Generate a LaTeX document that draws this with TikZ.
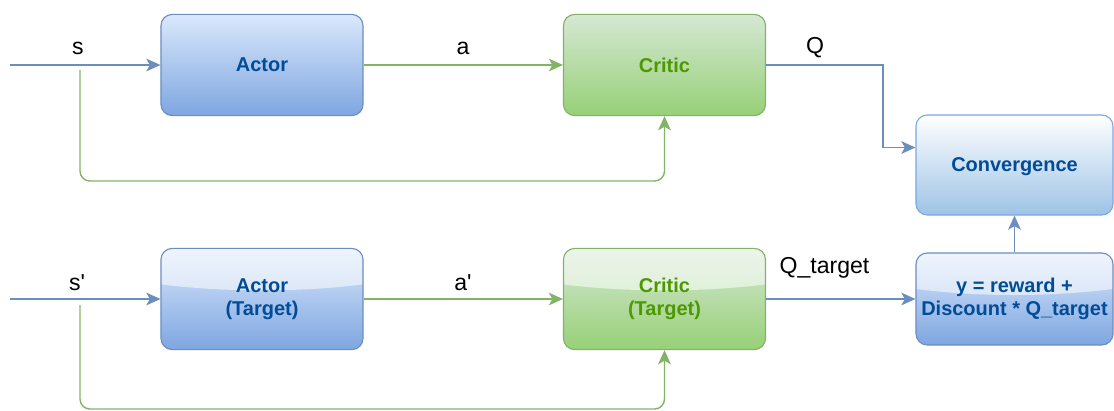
\documentclass[tikz,border=0pt]{standalone}
\usepackage{fontspec}
\setmainfont{Liberation Sans}[Ligatures=TeXOff]
\usetikzlibrary{arrows.meta}

\definecolor{bluetop}{HTML}{DAE8FC}
\definecolor{bluebot}{HTML}{7EA6E0}
\definecolor{blueline}{HTML}{6C8EBF}
\definecolor{bluetext}{HTML}{004C99}
\definecolor{greentop}{HTML}{D5E8D4}
\definecolor{greenbot}{HTML}{97D077}
\definecolor{greenline}{HTML}{82B366}
\definecolor{greentext}{HTML}{4D9900}
\definecolor{convbot}{HTML}{9DC3E6}
\definecolor{convline}{HTML}{7EA6E0}

\begin{document}
\begin{tikzpicture}[x=0.025cm, y=-0.025cm,
    box/.style={rounded corners=8pt, line width=0.8pt, minimum width=5.05cm, minimum height=2.53cm,
        align=center, inner sep=2pt, font=\fontsize{14.2}{16.5}\selectfont\bfseries},
    bluebox/.style={box, draw=blueline, top color=bluetop, bottom color=bluebot, text=bluetext},
    greenbox/.style={box, draw=greenline, top color=greentop, bottom color=greenbot, text=greentext},
    glass/.style={path picture={\fill[white, opacity=0.55, sharp corners]
        (path picture bounding box.north west) -- (path picture bounding box.north east)
        -- ([yshift=-0.9cm]path picture bounding box.north east)
        .. controls ([xshift=-1.6cm,yshift=-1.1cm]path picture bounding box.north east)
        and ([xshift=1.6cm,yshift=-1.1cm]path picture bounding box.north west)
        .. ([yshift=-0.9cm]path picture bounding box.north west) -- cycle;}},
    lbl/.style={inner sep=0pt, font=\fontsize{16.4}{18}\selectfont},
    tip/.style={-{Stealth[length=10pt, width=9pt, inset=2.5pt]}},
    bluearrow/.style={tip, draw=blueline, line width=1pt},
    greenarrow/.style={tip, draw=greenline, line width=1pt, rounded corners=7pt}]
    \useasboundingbox (0,0) rectangle (1114,410);

    % Online networks
    \node[bluebox] (actor) at (262,65) {Actor};
    \node[greenbox] (critic) at (664.5,65) {Critic};
    \node[box, draw=convline, top color=white, bottom color=convbot, text=bluetext,
        minimum width=4.925cm, minimum height=2.5cm, text depth=0pt] (conv) at (1014.5,165) {Convergence};

    % Target networks
    \node[bluebox, glass] (actorT) at (262,299) {Actor\\(Target)};
    \node[greenbox, glass] (criticT) at (664.5,299) {Critic\\(Target)};
    \node[bluebox, glass, minimum width=4.925cm, minimum height=2.3cm] (target) at (1014.5,299)
        {y = reward +\\Discount * Q\_target};

    % Free ends
    \coordinate (sIn) at (10,65);
    \coordinate (sTap) at (80,70);
    \coordinate (sLow) at (80,181);
    \coordinate (sInT) at (10,299);
    \coordinate (sTapT) at (80,305);
    \coordinate (sLowT) at (80,409);

    % Connectors
    \draw[bluearrow] (sIn) -- (actor.west);
    \draw[greenarrow] (sTap) -- (sLow) -| (critic.south);
    \draw[greenarrow] (actor.east) -- (critic.west);
    \draw[bluearrow] (critic.east) -- ++(117,0) |- (conv.170);

    \draw[bluearrow] (sInT) -- (actorT.west);
    \draw[greenarrow] (sTapT) -- (sLowT) -| (criticT.south);
    \draw[greenarrow] (actorT.east) -- (criticT.west);
    \draw[bluearrow] (criticT.east) -- (target.west);
    \draw[bluearrow] (target.north) -- (conv.south);

    % Labels
    \node[lbl] (sLbl) at (78,48) {s};
    \node[lbl] (aLbl) at (463,48) {a};
    \node[lbl] (qLbl) at (815,48) {Q};
    \node[lbl] (sTLbl) at (77,283) {s'};
    \node[lbl] (aTLbl) at (463,283) {a'};
    \node[lbl] (qTLbl) at (824.5,267.5) {Q\_target};
\end{tikzpicture}
\end{document}
